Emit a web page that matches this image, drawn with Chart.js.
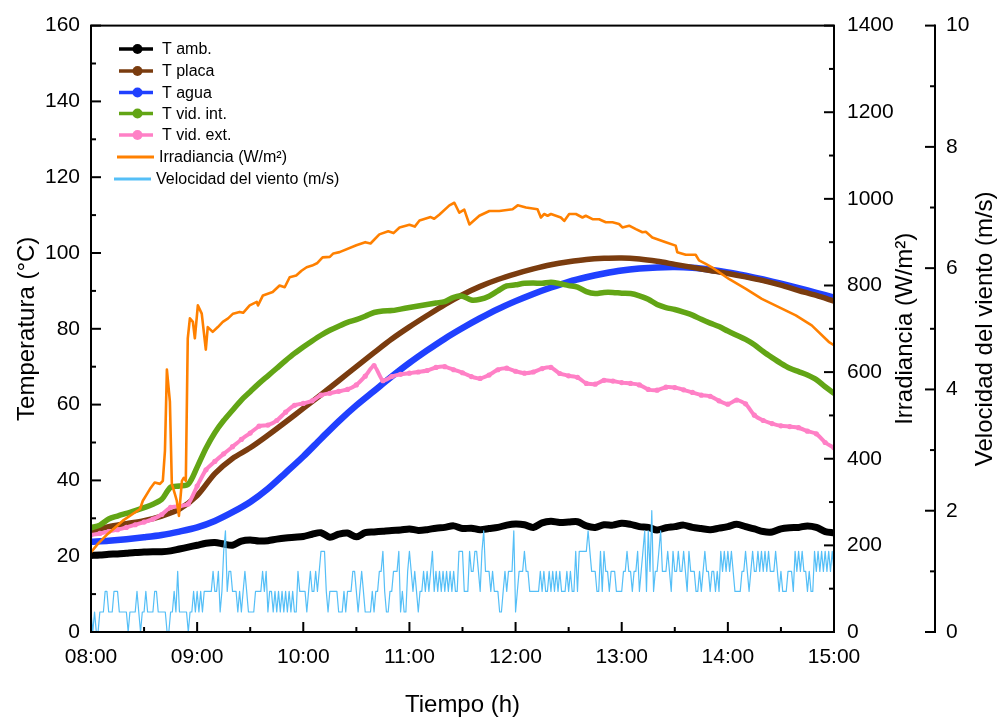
<!DOCTYPE html>
<html><head><meta charset="utf-8">
<script src="https://cdn.jsdelivr.net/npm/chart.js@4.4.1/dist/chart.umd.min.js"></script>
<style>html,body{margin:0;padding:0;background:#fff;}#wrap{width:999px;height:720px;}</style>
</head><body><div id="wrap"><canvas id="c" width="999" height="720"></canvas></div>
<script>
const FONT = '"Liberation Sans", Arial, Helvetica, sans-serif';

// ---- DATA ----
const xTickLabels = ['08:00','09:00','10:00','11:00','12:00','13:00','14:00','15:00'];
const sampleStep5 = 5;    // minutes between temperature samples (T amb, T vid.)
const sampleStep10 = 10;  // minutes between samples (T agua, T placa)
const windStep = 1;       // minutes between wind samples

const tAmb = [20.2,20.3,20.5,20.6,20.8,21.0,21.1,21.2,21.2,21.4,
  21.9,22.4,22.9,23.4,23.6,23.2,22.9,24.0,24.3,24.0,
  24.1,24.5,24.8,25.0,25.2,25.8,26.2,25.0,25.8,26.1,
  25.1,26.2,26.4,26.6,26.8,26.9,27.2,26.8,27.0,27.4,
  27.6,28.0,27.3,27.4,27.0,27.3,27.6,28.2,28.5,28.3,
  27.6,28.8,29.2,28.9,29.0,29.1,28.0,27.6,28.3,28.2,
  28.7,28.4,27.8,27.6,26.9,27.5,27.8,28.2,27.6,27.3,
  27.0,27.4,27.8,28.4,27.8,27.2,26.5,26.4,27.2,27.5,
  27.6,28.0,27.6,26.5,26.2];

const tVidInt = [27.5,28.2,29.8,30.6,31.3,32.0,32.8,33.7,35.0,38.2,
  38.5,39.0,43.5,48.5,52.6,55.8,58.5,61.2,63.4,65.6,
  67.6,69.6,71.6,73.5,75.2,76.8,78.3,79.6,80.7,81.7,
  82.4,83.3,84.3,84.7,84.8,85.2,85.6,86.0,86.4,86.8,
  87.2,88.3,88.6,87.6,87.8,88.6,90.0,91.3,91.6,92.0,
  92.1,92.0,92.3,91.9,91.4,91.0,89.8,89.3,89.6,89.6,
  89.4,89.3,88.7,87.8,86.4,85.6,85.1,84.4,83.6,82.5,
  81.5,80.6,79.4,78.3,77.2,75.8,74.0,72.4,70.9,69.6,
  68.7,67.8,66.6,64.7,63.0];

const tVidExt = [25.6,26.0,26.5,27.0,27.6,28.3,29.0,29.8,31.0,32.9,
  33.2,33.8,38.5,42.8,45.0,47.0,48.9,50.8,52.5,54.3,
  54.6,55.8,58.0,59.8,60.3,61.0,62.5,63.0,63.5,64.0,
  65.2,67.5,70.3,66.3,67.4,68.0,68.3,68.6,69.0,69.8,
  70.0,69.2,68.4,67.4,66.9,67.8,69.2,69.6,68.8,68.3,
  68.6,69.5,69.8,68.2,67.6,67.2,65.6,65.4,66.4,66.2,
  65.8,65.6,65.2,64.0,63.8,64.6,64.5,63.9,63.2,62.5,
  62.2,61.0,60.1,61.2,60.2,57.2,55.8,55.0,54.4,54.2,
  53.9,53.0,52.3,50.0,48.6];

const tAgua = [23.8,24.1,24.5,25.0,25.6,26.5,27.6,29.3,31.6,34.3,
  37.8,42.0,46.3,51.0,55.6,59.8,63.6,67.4,71.0,74.3,
  77.4,80.2,82.8,85.2,87.3,89.2,90.9,92.4,93.6,94.6,
  95.4,95.9,96.2,96.3,96.1,95.6,94.9,94.0,93.0,91.9,
  90.7,89.5,88.2];

const tPlaca = [26.5,27.8,28.6,29.4,30.6,32.4,36.0,41.8,45.8,48.6,
  51.9,55.4,59.0,62.6,66.3,70.0,73.7,77.3,80.5,83.5,
  86.4,89.0,91.2,93.0,94.5,95.8,96.9,97.7,98.3,98.6,
  98.7,98.4,97.8,97.0,96.2,95.4,94.6,93.7,92.7,91.5,
  90.1,88.8,87.3];

const irrTime = [0,4,9.6,18,27.7,29.3,33.3,36,39,40.6,41.8,42.9,44.6,45.7,47.4,48.5,49.7,51.4,52.5,53.6,
  54.7,55.9,57.6,58.7,60.4,62.6,64.9,66,68.8,
  71.7,74.5,77.5,80.3,84,86,89.7,93.7,94.4,97.2,102.7,106.6,109.5,112.3,116,119,121.9,125,128,130.9,
  135,137,140.5,150,155,158,163,168,171,174.4,180,183,185.7,192,194,197,202.6,205.4,208.2,211,213.9,
  219.5,225.2,230.8,238.3,241.2,245.9,252.4,254.3,256.2,258.1,260,262.8,265.6,267.5,270.3,274.1,277.8,279.7,283.5,287.2,
  291,294.8,298.5,300.4,304.2,308,311.7,313.6,317.3,324.9,330.5,331.4,336.2,341.8,343.7,347.5,351,360.6,370.2,379.2,
  388.8,398.4,407.4,417,420];
const irrValue = [184,204,227,257,284,303,330,345,342,349,418,606,532,342,319,303,268,349,356,349,
  678,724,716,678,754,735,652,704,693,
  704,716,724,735,739,737,754,762,754,777,785,800,796,819,823,834,842,846,852,865,
  866,874,877,893,900,897,918,925,921,934,940,936,950,958,954,964,985,991,968,975,941,
  961,972,972,976,985,980,976,957,965,961,965,961,957,949,965,965,957,961,953,953,
  946,946,942,934,938,930,923,924,911,900,892,877,871,871,858,850,842,815,792,769,
  750,731,708,670,662];

const windSpeed = [
  0.33,0,0.33,0,0,0.33,0.33,0.33,0.67,0.67,
  0.33,0.33,0.33,0.67,0.67,0.67,0.33,0.33,0.33,0.33,
  0.33,0,0.33,0.33,0.33,0.33,0.67,0.33,0,0.33,
  0.33,0.67,0.33,0.33,0.33,0.33,0.67,0.67,0.33,0.33,
  0.33,0.33,0.33,0,0,0.33,0.33,0.67,0.33,1.0,
  0.33,0.33,0.33,0.33,0.33,0,0.33,0.33,0.67,0.33,
  0.67,0.33,0.67,0.33,0.67,0.67,0.67,0.67,0.67,1.0,
  0.67,0.67,1.0,0.33,0.67,1.33,1.67,0.67,1.0,1.0,
  0.67,0.67,0.67,0.33,0.67,0.33,0.67,1.0,0.67,0.33,
  0.33,0.33,0.33,0.67,0.67,0.67,0.67,1.0,0.67,1.0,
  0.33,0.67,0.67,0.33,0.67,0.33,0.67,0.33,0.67,0.33,
  0.67,0.33,0.67,0.33,0.67,0.33,0.33,1.0,0.67,0.67,
  0.67,0.67,0.33,0.67,1.0,0.67,0.67,1.0,0.67,1.0,
  1.33,1.33,1.33,0.67,0.33,0.67,0.67,0.67,0.67,0.67,
  0.33,0.33,0.33,0.67,0.33,0.67,0.67,0.67,1.0,1.0,
  0.67,0.33,0.67,1.0,0.67,0.33,0.33,0.33,0.33,0.67,
  0.33,0.67,0.67,1.0,1.0,1.33,0.67,0.33,0.33,0.67,
  0.67,1.0,1.0,1.0,1.33,0.33,0.67,0.33,0.33,1.0,
  1.33,1.0,0.67,1.0,0.67,0.33,0.67,0.67,1.0,0.67,
  1.0,0.67,1.0,1.33,0.67,1.0,0.67,1.0,0.67,1.0,
  0.67,1.0,0.67,1.0,0.67,1.0,0.67,0.67,1.33,1.33,
  1.33,0.67,0.67,0.67,1.33,1.0,1.0,1.33,1.33,1.0,
  0.67,1.33,1.67,1.0,1.0,1.0,0.67,1.0,0.67,0.67,
  0.67,0.33,0.33,0.67,1.0,0.67,1.0,1.0,1.0,1.67,
  0.33,0.67,1.0,1.0,1.0,1.33,1.0,1.0,0.67,0.67,
  0.67,0.67,0.67,0.67,1.0,0.67,1.0,0.67,0.67,1.0,
  0.67,1.0,0.67,1.0,0.67,1.0,0.67,0.67,0.67,1.0,
  0.67,1.0,0.67,0.67,1.33,0.67,1.33,1.33,1.33,1.33,
  1.33,1.67,1.33,1.0,1.0,1.0,0.67,0.67,1.33,0.67,
  1.33,1.0,1.0,0.67,1.0,1.0,1.0,0.67,0.67,0.67,
  0.67,1.0,1.0,1.33,1.0,1.0,0.67,1.0,1.0,1.33,
  0.67,1.0,1.33,1.67,0.67,1.67,1.0,2.0,0.67,1.0,
  1.0,1.33,1.67,1.0,1.0,1.0,1.33,1.0,0.67,1.33,
  1.0,1.0,1.33,1.0,1.0,1.33,1.0,0.67,1.33,1.0,
  1.0,1.0,0.67,0.67,1.0,0.67,1.0,1.33,1.0,1.0,
  0.67,1.0,1.0,0.67,1.0,0.67,1.33,1.0,1.33,1.0,
  1.33,1.0,1.33,1.0,0.67,0.67,0.67,0.67,1.0,1.0,
  1.33,1.0,0.67,1.0,1.33,1.0,1.0,1.33,1.0,1.33,
  1.0,1.33,1.0,1.33,1.0,1.0,1.0,1.33,1.0,0.67,
  1.0,0.67,0.67,0.67,1.0,1.0,1.0,0.67,1.33,1.0,
  1.33,1.0,1.33,1.0,1.0,0.67,1.0,0.67,0.67,1.33,
  1.0,1.33,1.0,1.33,1.0,1.33,1.0,1.33,1.0,1.33,1.0];

const seriesLabels = ['T amb.','T placa','T agua','T vid. int.','T vid. ext.','Irradiancia (W/m²)','Velocidad del viento (m/s)'];
const axisTitles = {x:'Tiempo (h)', y:'Temperatura (°C)', y1:'Irradiancia (W/m²)', y2:'Velocidad del viento (m/s)'};

// ---- build point lists ----
const pts = (arr, step) => arr.map((v,i)=>({x:i*step, y:v}));
const irrPts = irrTime.map((t,i)=>({x:t, y:irrValue[i]}));

const COL = {amb:'#000000', placa:'#7a3c0f', agua:'#2040ff', vint:'#62a515', vext:'#ff80c6', irr:'#ff8000', wind:'#55bff7'};

const legendItems = [
  {label:seriesLabels[0], color:COL.amb, marker:true},
  {label:seriesLabels[1], color:COL.placa, marker:true},
  {label:seriesLabels[2], color:COL.agua, marker:true},
  {label:seriesLabels[3], color:COL.vint, marker:true},
  {label:seriesLabels[4], color:COL.vext, marker:true},
  {label:seriesLabels[5], color:COL.irr, marker:false},
  {label:seriesLabels[6], color:COL.wind, marker:false}
];

const framePlugin = {
  id:'frameTicks',
  afterDatasetsDraw(chart){
    const {ctx, chartArea:a, scales} = chart;
    ctx.save();
    ctx.strokeStyle = '#000';
    ctx.lineWidth = 2;
    ctx.lineCap = 'butt';
    ctx.strokeRect(a.left, a.top, a.right-a.left, a.bottom-a.top);
    const line = (x1,y1,x2,y2)=>{ctx.beginPath();ctx.moveTo(x1,y1);ctx.lineTo(x2,y2);ctx.stroke();};
    const MAJ = 10, MIN = 5;
    const each = (scale, fn) => {
      const t = scale.ticks.map(k=>k.value);
      for (let i=0;i<t.length;i++){
        fn(scale.getPixelForValue(t[i]), MAJ);
        if (i<t.length-1) fn(scale.getPixelForValue((t[i]+t[i+1])/2), MIN);
      }
    };
    each(scales.x, (p,l)=>line(p, a.bottom, p, a.bottom-l));
    each(scales.y, (p,l)=>line(a.left, p, a.left+l, p));
    each(scales.y1, (p,l)=>line(a.right, p, a.right-l, p));
    const x2 = scales.y2.left;
    line(x2, scales.y2.getPixelForValue(0)+1, x2, scales.y2.getPixelForValue(10)-1);
    each(scales.y2, (p,l)=>line(x2, p, x2-l, p));

    // right axis titles (reading bottom-to-top)
    ctx.fillStyle = '#000';
    ctx.font = '24px ' + FONT;
    ctx.textAlign = 'center';
    ctx.textBaseline = 'middle';
    const midY = (a.top + a.bottom)/2;
    [[scales.y1.left + 71, axisTitles.y1],[scales.y2.left + 50, axisTitles.y2]].forEach(([x,txt])=>{
      ctx.save(); ctx.translate(x, midY); ctx.rotate(-Math.PI/2); ctx.fillText(txt, 0, 0); ctx.restore();
    });

    // legend
    ctx.font = '16px ' + FONT;
    ctx.textAlign = 'left';
    const rowsY = [49, 71, 92.5, 113.5, 135, 157, 179];
    legendItems.forEach((it, i)=>{
      const y = rowsY[i];
      ctx.strokeStyle = it.color;
      if (it.marker){
        ctx.lineWidth = 3.5;
        line(119, y, 153, y);
        ctx.fillStyle = it.color;
        ctx.beginPath(); ctx.arc(137.5, y, 5, 0, Math.PI*2); ctx.fill();
        ctx.fillStyle = '#000';
        ctx.fillText(it.label, 162, y+1);
      } else {
        ctx.lineWidth = 3;
        const x0 = i===5 ? 117 : 114;
        line(x0, y, x0+37, y);
        ctx.fillStyle = '#000';
        ctx.fillText(it.label, x0+42, y+1);
      }
    });
    ctx.restore();
  }
};

const tickFont = {family:FONT, size:21};
const titleFont = {family:FONT, size:24};
const plainNum = (v) => String(v);

new Chart(document.getElementById('c'), {
  type:'line',
  data:{datasets:[
    {label:seriesLabels[6], data:pts(windSpeed, windStep), yAxisID:'y2', borderColor:COL.wind, borderWidth:1.2, pointRadius:0, tension:0},
    {label:seriesLabels[5], data:irrPts, yAxisID:'y1', borderColor:COL.irr, borderWidth:2.6, pointRadius:0, tension:0},
    {label:seriesLabels[0], data:pts(tAmb, sampleStep5), yAxisID:'y', borderColor:COL.amb, borderWidth:7, pointRadius:0, tension:0.3},
    {label:seriesLabels[4], data:pts(tVidExt, sampleStep5), yAxisID:'y', borderColor:COL.vext, backgroundColor:COL.vext, borderWidth:4, pointRadius:2.6, pointBorderWidth:0, tension:0.2},
    {label:seriesLabels[3], data:pts(tVidInt, sampleStep5), yAxisID:'y', borderColor:COL.vint, borderWidth:5.5, pointRadius:0, tension:0.3},
    {label:seriesLabels[1], data:pts(tPlaca, sampleStep10), yAxisID:'y', borderColor:COL.placa, borderWidth:5.5, pointRadius:0, tension:0.3},
    {label:seriesLabels[2], data:pts(tAgua, sampleStep10), yAxisID:'y', borderColor:COL.agua, borderWidth:6.5, pointRadius:0, tension:0.3}
  ]},
  options:{
    responsive:false, animation:false, devicePixelRatio:1,
    layout:{padding:{top:22, left:0, right:0, bottom:0}},
    plugins:{legend:{display:false}, tooltip:{enabled:false}},
    elements:{line:{borderJoinStyle:'round', borderCapStyle:'round'}},
    scales:{
      x:{type:'linear', position:'bottom', min:0, max:420,
        grid:{display:false, drawTicks:false}, border:{display:false},
        ticks:{stepSize:60, autoSkip:false, maxRotation:0, padding:13, color:'#000', font:tickFont,
          callback:(v)=>xTickLabels[Math.round(v/60)]},
        title:{display:true, text:axisTitles.x, color:'#000', font:titleFont, padding:{top:0,bottom:0}},
        afterFit:(s)=>{s.height = 88;}},
      y:{type:'linear', position:'left', min:0, max:160,
        grid:{display:false, drawTicks:false}, border:{display:false},
        ticks:{stepSize:20, padding:11, color:'#000', font:tickFont, callback:plainNum},
        title:{display:true, text:axisTitles.y, color:'#000', font:titleFont, padding:{top:13,bottom:0}},
        afterFit:(s)=>{s.width = 91;}},
      y1:{type:'linear', position:'right', weight:0, min:0, max:1400,
        grid:{display:false, drawTicks:false}, border:{display:false},
        ticks:{stepSize:200, padding:13, color:'#000', font:tickFont, callback:plainNum},
        afterFit:(s)=>{s.width = 101;}},
      y2:{type:'linear', position:'right', weight:1, min:0, max:10,
        grid:{display:false, drawTicks:false}, border:{display:false},
        ticks:{stepSize:2, padding:11, color:'#000', font:tickFont, callback:plainNum},
        afterFit:(s)=>{s.width = 64;}}
    }
  },
  plugins:[framePlugin]
});
</script></body></html>
